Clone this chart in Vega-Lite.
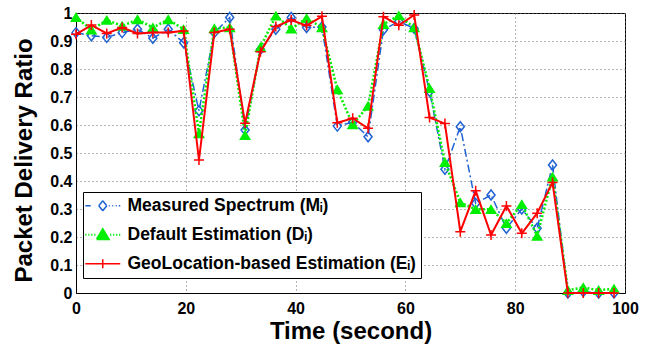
{
  "$schema": "https://vega.github.io/schema/vega-lite/v6.json",
  "width": 549,
  "height": 280,
  "autosize": {"type": "none"},
  "padding": {"left": 76, "top": 13, "right": 29, "bottom": 52},
  "background": "white",
  "data": {"values": [
    {"t": 0, "s": "M", "v": 0.93}, {"t": 2.8, "s": "M", "v": 0.919}, {"t": 5.6, "s": "M", "v": 0.913}, {"t": 8.4, "s": "M", "v": 0.93},
    {"t": 11.2, "s": "M", "v": 0.942}, {"t": 14, "s": "M", "v": 0.91}, {"t": 16.8, "s": "M", "v": 0.942}, {"t": 19.6, "s": "M", "v": 0.894},
    {"t": 22.4, "s": "M", "v": 0.651}, {"t": 25.2, "s": "M", "v": 0.93}, {"t": 28, "s": "M", "v": 0.984}, {"t": 30.8, "s": "M", "v": 0.582},
    {"t": 33.6, "s": "M", "v": 0.87}, {"t": 36.4, "s": "M", "v": 0.942}, {"t": 39.2, "s": "M", "v": 0.984}, {"t": 42, "s": "M", "v": 0.948},
    {"t": 44.8, "s": "M", "v": 0.95}, {"t": 47.6, "s": "M", "v": 0.596}, {"t": 50.4, "s": "M", "v": 0.61}, {"t": 53.2, "s": "M", "v": 0.558},
    {"t": 56, "s": "M", "v": 0.94}, {"t": 58.8, "s": "M", "v": 0.97}, {"t": 61.6, "s": "M", "v": 0.945}, {"t": 64.4, "s": "M", "v": 0.72},
    {"t": 67.2, "s": "M", "v": 0.442}, {"t": 70, "s": "M", "v": 0.594}, {"t": 72.8, "s": "M", "v": 0.32}, {"t": 75.6, "s": "M", "v": 0.35},
    {"t": 78.4, "s": "M", "v": 0.231}, {"t": 81.2, "s": "M", "v": 0.3}, {"t": 84, "s": "M", "v": 0.231}, {"t": 86.8, "s": "M", "v": 0.457},
    {"t": 89.6, "s": "M", "v": 0.0}, {"t": 92.4, "s": "M", "v": 0.005}, {"t": 95.2, "s": "M", "v": 0.0}, {"t": 98, "s": "M", "v": 0.0},

    {"t": 0, "s": "D", "v": 0.985}, {"t": 2.8, "s": "D", "v": 0.94}, {"t": 5.6, "s": "D", "v": 0.975}, {"t": 8.4, "s": "D", "v": 0.954},
    {"t": 11.2, "s": "D", "v": 0.977}, {"t": 14, "s": "D", "v": 0.948}, {"t": 16.8, "s": "D", "v": 0.977}, {"t": 19.6, "s": "D", "v": 0.942},
    {"t": 22.4, "s": "D", "v": 0.57}, {"t": 25.2, "s": "D", "v": 0.945}, {"t": 28, "s": "D", "v": 0.948}, {"t": 30.8, "s": "D", "v": 0.564},
    {"t": 33.6, "s": "D", "v": 0.878}, {"t": 36.4, "s": "D", "v": 0.99}, {"t": 39.2, "s": "D", "v": 0.944}, {"t": 42, "s": "D", "v": 0.981},
    {"t": 44.8, "s": "D", "v": 0.948}, {"t": 47.6, "s": "D", "v": 0.727}, {"t": 50.4, "s": "D", "v": 0.602}, {"t": 53.2, "s": "D", "v": 0.668},
    {"t": 56, "s": "D", "v": 0.96}, {"t": 58.8, "s": "D", "v": 0.991}, {"t": 61.6, "s": "D", "v": 0.948}, {"t": 64.4, "s": "D", "v": 0.731},
    {"t": 67.2, "s": "D", "v": 0.467}, {"t": 70, "s": "D", "v": 0.323}, {"t": 72.8, "s": "D", "v": 0.299}, {"t": 75.6, "s": "D", "v": 0.299},
    {"t": 78.4, "s": "D", "v": 0.249}, {"t": 81.2, "s": "D", "v": 0.317}, {"t": 84, "s": "D", "v": 0.204}, {"t": 86.8, "s": "D", "v": 0.415},
    {"t": 89.6, "s": "D", "v": 0.01}, {"t": 92.4, "s": "D", "v": 0.02}, {"t": 95.2, "s": "D", "v": 0.01}, {"t": 98, "s": "D", "v": 0.015},

    {"t": 0, "s": "E", "v": 0.924}, {"t": 2.8, "s": "E", "v": 0.957}, {"t": 5.6, "s": "E", "v": 0.927}, {"t": 8.4, "s": "E", "v": 0.948},
    {"t": 11.2, "s": "E", "v": 0.927}, {"t": 14, "s": "E", "v": 0.93}, {"t": 16.8, "s": "E", "v": 0.93}, {"t": 19.6, "s": "E", "v": 0.936},
    {"t": 22.4, "s": "E", "v": 0.475}, {"t": 25.2, "s": "E", "v": 0.93}, {"t": 28, "s": "E", "v": 0.942}, {"t": 30.8, "s": "E", "v": 0.606},
    {"t": 33.6, "s": "E", "v": 0.862}, {"t": 36.4, "s": "E", "v": 0.952}, {"t": 39.2, "s": "E", "v": 0.975}, {"t": 42, "s": "E", "v": 0.955},
    {"t": 44.8, "s": "E", "v": 0.988}, {"t": 47.6, "s": "E", "v": 0.608}, {"t": 50.4, "s": "E", "v": 0.624}, {"t": 53.2, "s": "E", "v": 0.588},
    {"t": 56, "s": "E", "v": 0.987}, {"t": 58.8, "s": "E", "v": 0.956}, {"t": 61.6, "s": "E", "v": 0.993}, {"t": 64.4, "s": "E", "v": 0.627},
    {"t": 67.2, "s": "E", "v": 0.605}, {"t": 70, "s": "E", "v": 0.219}, {"t": 72.8, "s": "E", "v": 0.365}, {"t": 75.6, "s": "E", "v": 0.207},
    {"t": 78.4, "s": "E", "v": 0.311}, {"t": 81.2, "s": "E", "v": 0.213}, {"t": 84, "s": "E", "v": 0.285}, {"t": 86.8, "s": "E", "v": 0.395},
    {"t": 89.6, "s": "E", "v": 0.0}, {"t": 92.4, "s": "E", "v": 0.0}, {"t": 95.2, "s": "E", "v": 0.0}, {"t": 98, "s": "E", "v": 0.0}
  ]},
  "encoding": {
    "x": {"field": "t", "type": "quantitative", "scale": {"domain": [0, 100], "nice": false},
      "axis": {"title": "Time (second)", "values": [0, 20, 40, 60, 80, 100], "labelPadding": 7, "titlePadding": 3, "ticks": false, "labelFlush": false}},
    "y": {"field": "v", "type": "quantitative", "scale": {"domain": [0, 1], "nice": false},
      "axis": {"title": "Packet Delivery Ratio", "values": [0, 0.1, 0.2, 0.3, 0.4, 0.5, 0.6, 0.7, 0.8, 0.9, 1],
        "labelExpr": "datum.value == 0 ? '0' : datum.value == 1 ? '1' : format(datum.value, '.1f')",
        "labelPadding": 4, "ticks": false, "labelFlush": false, "titleX": -52, "titleY": 147, "titleBaseline": "middle", "titleAngle": -90}},
    "color": {"field": "s", "type": "nominal",
      "scale": {"domain": ["M", "D", "E"], "range": ["#1f62d4", "#00ee00", "#ff0000"]},
      "legend": {
        "title": null, "orient": "none", "legendX": 7, "legendY": 179,
        "strokeColor": "black", "fillColor": "white", "padding": 5,
        "symbolSize": 400, "symbolStrokeWidth": 1.5, "symbolOffset": 6, "labelOffset": 16,
        "labelFont": "Liberation Sans", "labelFontSize": 17.5, "labelFontWeight": "bold", "labelColor": "black",
        "labelLimit": 0,
        "rowPadding": 10,
        "labelExpr": "datum.value == 'M' ? 'Measured Spectrum (Mᵢ)' : datum.value == 'D' ? 'Default Estimation (Dᵢ)' : 'GeoLocation-based Estimation (Eᵢ)'",
        "encode": {"symbols": {"update": {
          "shape": {"signal": "datum.value == 'M' ? 'M-1.75,0H-1.2M-0.4,0L0,-0.5M0,-0.5L0.4,0M0.4,0L0,0.5M0,0.5L-0.4,0M0.6,0H0.7M0.95,0H1.05M1.3,0H1.4M1.6,0H1.75' : datum.value == 'D' ? 'M-1.75,0h0.12M-1.45,0h0.12M-1.15,0h0.12M-0.85,0h0.12M-0.6,0.45L0,-0.55L0.6,0.45ZM0.73,0h0.12M1.03,0h0.12M1.33,0h0.12M1.63,0h0.12' : 'M-1.75,0H1.75M0,-0.45V0.45'"},
          "stroke": {"signal": "datum.value == 'M' ? '#1f62d4' : datum.value == 'D' ? '#00ee00' : '#ff0000'"},
          "fill": {"signal": "datum.value == 'D' ? '#00ee00' : 'transparent'"},
          "strokeDash": {"value": [100, 0]},
          "strokeWidth": {"signal": "datum.value == 'D' ? 2 : 1.5"},
          "opacity": {"value": 1}
        }}}
      }}
  },
  "layer": [
    {"transform": [{"filter": "datum.s == 'M'"}], "mark": {"type": "line", "strokeWidth": 1.5, "strokeDash": [8, 3, 2, 3]}},
    {"transform": [{"filter": "datum.s == 'M'"}], "mark": {"type": "point", "shape": "M-0.8,0L0,-1L0.8,0L0,1Z", "size": 100, "filled": false, "strokeWidth": 1.5, "opacity": 1}},
    {"transform": [{"filter": "datum.s == 'D'"}], "mark": {"type": "line", "strokeWidth": 2.5, "strokeDash": [2, 2]}},
    {"transform": [{"filter": "datum.s == 'D'"}], "mark": {"type": "point", "shape": "M-1,0.8L0,-0.85L1,0.8Z", "size": 144, "filled": true, "opacity": 1}},
    {"transform": [{"filter": "datum.s == 'E'"}], "mark": {"type": "line", "strokeWidth": 2}},
    {"transform": [{"filter": "datum.s == 'E'"}], "mark": {"type": "point", "shape": "M-1,0H1M0,-1V1", "size": 100, "filled": false, "strokeWidth": 1.5, "opacity": 1}}
  ],
  "config": {
    "view": {"stroke": "black", "strokeWidth": 1},
    "axis": {
      "labelFont": "Liberation Sans", "labelFontWeight": "bold", "labelFontSize": 16, "labelColor": "black",
      "titleFont": "Liberation Sans", "titleFontWeight": "bold", "titleFontSize": 24, "titleColor": "black",
      "domainColor": "black", "gridColor": "#666666", "gridDash": [1, 3], "gridWidth": 1
    }
  }
}
